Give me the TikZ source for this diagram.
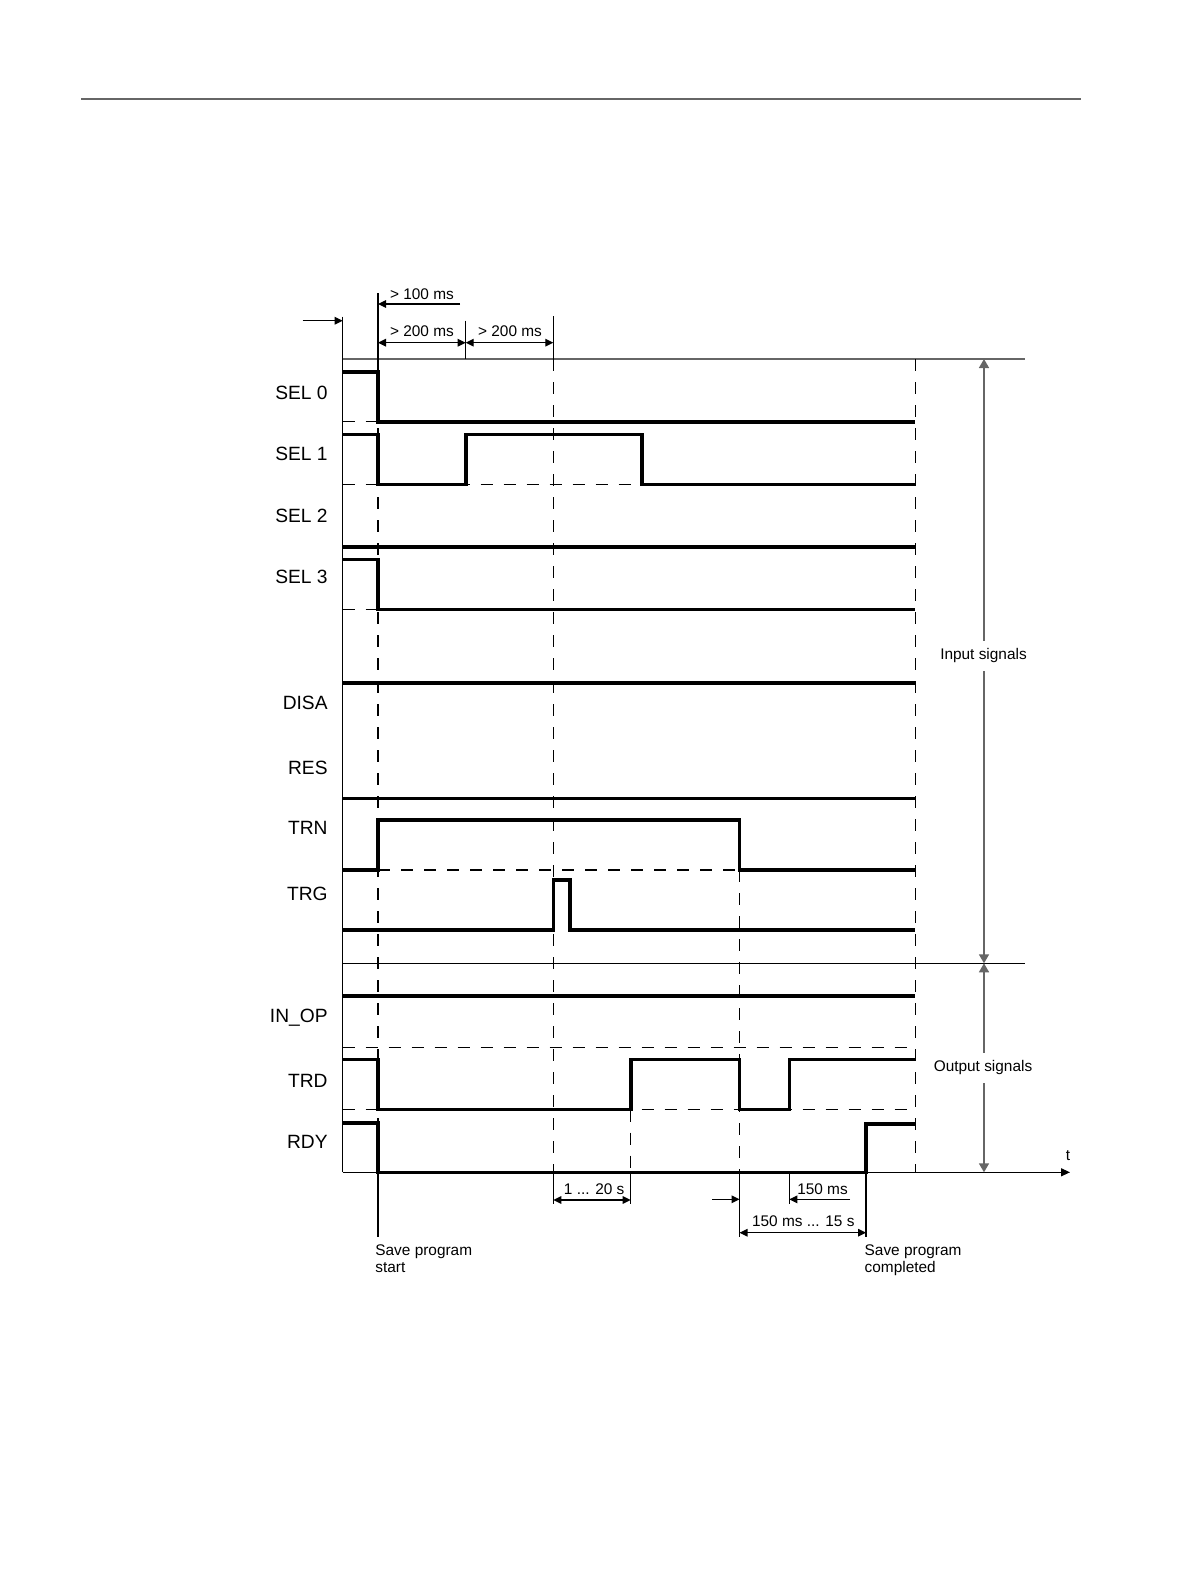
\documentclass[tikz,border=0pt]{standalone}
\usepackage{fontspec}
\setmainfont{Liberation Sans}
\usetikzlibrary{arrows.meta}

\begin{document}
\begin{tikzpicture}[x=0.5pt,y=-0.5pt,
  sig/.style={line width=1.8pt,line join=miter},
  thin/.style={line width=0.6pt},
  lvl/.style={thin,dash pattern=on 6pt off 5.5pt},
  rule/.style={line width=0.8pt,black!60},
  dim/.style={thin,-{Triangle[length=4pt,width=3.8pt]}},
  dimb/.style={thin,{Triangle[length=4pt,width=3.8pt]}-{Triangle[length=4pt,width=3.8pt]}},
  span/.style={rule,{Triangle[length=4.5pt,width=5pt]}-{Triangle[length=4.5pt,width=5pt]}},
  lab/.style={font=\fontsize{9.6}{11}\selectfont,inner sep=0pt,anchor=base east},
  note/.style={font=\fontsize{7.7}{8.75}\selectfont,inner sep=0pt}]
\useasboundingbox (0,0) rectangle (1191,1587);
\draw[rule] (81,99.2) -- (1080.7,99.2);
% frame and time axis
\draw[thin] (342.7,316.7) -- (342.7,1172.3);
\draw[rule] (342.7,359) -- (1025,359);
\draw[thin] (342.7,963.3) -- (1025,963.3);
\draw[thin,-{Triangle[length=4.5pt,width=4pt]}] (342.7,1172.3) -- (1070,1172.3);
\node[note,anchor=base] (t) at (1068,1160) {t};
% signal names
\foreach \y/\lab/\nm in {399.3/SEL 0/sel0,460/SEL 1/sel1,522.7/SEL 2/sel2,583.3/SEL 3/sel3,
                         709.3/DISA/disa,774/RES/res,834/TRN/trn,900/TRG/trg,
                         1022.3/IN\_OP/inop,1087.3/TRD/trd,1148.3/RDY/rdy}
  \node[lab] (\nm) at (328,\y) {\lab};
% low levels and time marks
\draw[lvl] (342.7,421.7) -- (378,421.7);
\draw[lvl] (342.7,484.3) -- (915.3,484.3);
\draw[lvl] (342.7,609.3) -- (378,609.3);
\draw[lvl] (378,870) -- (915.3,870);
\draw[lvl] (342.7,1047.7) -- (915.3,1047.7);
\draw[lvl] (342.7,1109.5) -- (915.3,1109.5);
\foreach \x in {378,553.3,915.3} \draw[lvl] (\x,359) -- (\x,1172.3);
\draw[lvl] (739.5,870) -- (739.5,1172.3);
\draw[lvl] (630.7,1109.5) -- (630.7,1172.3);
\foreach \x/\a/\b in {378/293/359,465.7/320.7/359,553.3/316/359,378/1172.3/1236.7,553.3/1172.3/1204,
                      630.7/1172.3/1204,739.5/1172.3/1236.7,789.3/1172.3/1204,866/1172.3/1237.3}
  \draw[thin] (\x,\a) -- (\x,\b);
% signals
\draw[sig] (342.7,371.7) -| (378,421.7) -- (915.3,421.7);
\draw[sig] (342.7,434.3) -| (378,484.3) -| (465.7,434.3) -| (641.7,484.3) -- (915.3,484.3);
\draw[sig] (342.7,547) -- (915.3,547);
\draw[sig] (342.7,559.3) -| (378,609.3) -- (915.3,609.3);
\draw[sig] (342.7,682.7) -- (915.3,682.7);
\draw[sig] (342.7,798.3) -- (915.3,798.3);
\draw[sig] (342.7,870) -| (378,820) -| (739.5,870) -- (915.3,870);
\draw[sig] (342.7,930) -| (553.3,880) -| (570,930) -- (915.3,930);
\draw[sig] (342.7,996) -- (915.3,996);
\draw[sig] (342.7,1059.5) -| (378,1109.5) -| (630.7,1059.5) -| (739.5,1109.5) -| (789.3,1059.5) -- (915.3,1059.5);
\draw[sig] (342.7,1122.7) -| (378,1172.3) -| (866,1124) -- (915.3,1124);
% timing dimensions
\draw[dim] (302.7,320.7) -- (342.7,320.7);
\draw[dim] (460,304) -- (378,304);
\draw[dimb] (378,342.7) -- (465.7,342.7);
\draw[dimb] (465.7,342.7) -- (553.3,342.7);
\node[note,anchor=base] (gt100) at (422,299) {> 100 ms};
\node[note,anchor=base] (gt200a) at (422,336.7) {> 200 ms};
\node[note,anchor=base] (gt200b) at (510,336.7) {> 200 ms};
\draw[dimb] (553.3,1200) -- (630.7,1200);
\draw[dim] (712.3,1199.3) -- (739.5,1199.3);
\draw[dim] (850,1199.3) -- (789.3,1199.3);
\draw[dimb] (739.5,1232.7) -- (866,1232.7);
\node[note,anchor=base] (sec20) at (594.2,1194) {1 ... 20 s};
\node[note,anchor=base] (ms150) at (822.5,1194) {150 ms};
\node[note,anchor=base] (s15) at (803.3,1226.7) {150 ms ... 15 s};
\node[note,anchor=north west,align=left] (start) at (375,1244) {Save program\\start};
\node[note,anchor=north west,align=left] (done) at (864.3,1244) {Save program\\completed};
% signal groups
\draw[span] (984,359) -- (984,963.3);
\draw[span] (984,963.3) -- (984,1172.3);
\node[note,fill=white,inner xsep=1pt,inner ysep=4pt] (insig) at (983.5,656) {Input signals};
\node[note,fill=white,inner xsep=1pt,inner ysep=4pt] (outsig) at (983,1068) {Output signals};
\end{tikzpicture}
\end{document}
